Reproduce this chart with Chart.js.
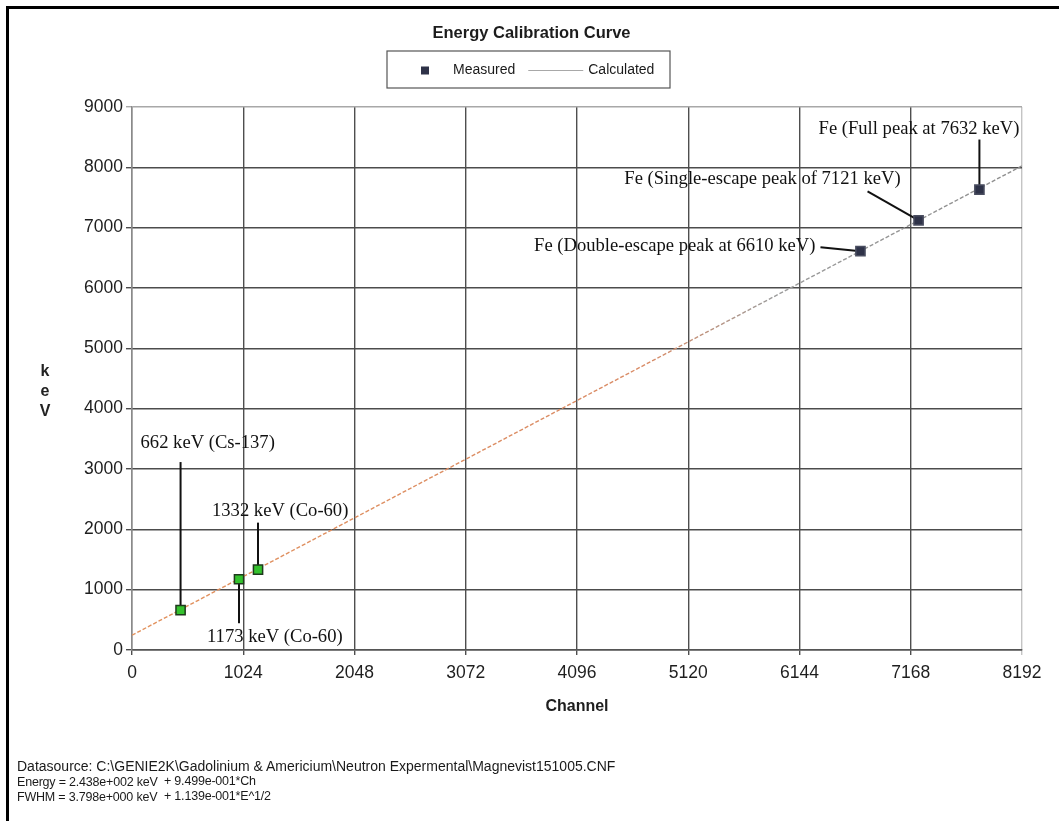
<!DOCTYPE html>
<html>
<head>
<meta charset="utf-8">
<title>Energy Calibration Curve</title>
<script src="https://cdn.jsdelivr.net/npm/chart.js@4.4.1/dist/chart.umd.min.js"></script>
<style>
  html, body { margin: 0; padding: 0; background: #fff; }
  #wrap { position: relative; width: 1059px; height: 821px; overflow: hidden; }
  #frame {
    position: absolute; left: 6px; top: 6px; right: -10px; bottom: -10px;
    border-left: 3px solid #000; border-top: 3px solid #000;
  }
  #chart { position: absolute; left: 0; top: 0; }
  #notes {
    position: absolute; left: 17px; top: 759px;
    font: 14px "Liberation Sans", Arial, sans-serif; color: #1a1a1a;
  }
  #notes div { position: relative; height: 15px; line-height: 15px; white-space: pre; }
  #notes .c1 { font-size: 12.5px; letter-spacing: -0.2px; }
  #notes .c2 { position: absolute; left: 147px; top: 0; font-size: 12.5px; letter-spacing: -0.2px; }
</style>
</head>
<body>
<div id="wrap">
  <canvas id="chart" width="1059" height="821"></canvas>
  <div id="frame"></div>
  <div id="notes">
    <div>Datasource: C:\GENIE2K\Gadolinium &amp; Americium\Neutron Expermental\Magnevist151005.CNF</div>
    <div><span class="c1">Energy = 2.438e+002 keV</span><span class="c2">+ 9.499e-001*Ch</span></div>
    <div><span class="c1">FWHM = 3.798e+000 keV</span><span class="c2">+ 1.139e-001*E^1/2</span></div>
  </div>
</div>
<script>
'use strict';

// ── measured calibration peaks ──
const channels   = [447, 985, 1160, 6705, 7240, 7800];
const energies   = [662, 1173, 1332, 6610, 7121, 7632];
const peakLabels = [
  '662 keV (Cs-137)',
  '1173 keV (Co-60)',
  '1332 keV (Co-60)',
  'Fe (Double-escape peak at 6610 keV)',
  'Fe (Single-escape peak of 7121 keV)',
  'Fe (Full peak at 7632 keV)',
];

// ── calculated calibration line (end points) ──
const fitChannels = [0, 8192];
const fitEnergies = [245, 8025];

const xTicks = [0, 1024, 2048, 3072, 4096, 5120, 6144, 7168, 8192];
const yTicks = [0, 1000, 2000, 3000, 4000, 5000, 6000, 7000, 8000, 9000];

const TITLE = 'Energy Calibration Curve';

// label placement: text offset from the point, text alignment, leader start offset
const LABEL_POS = [
  { dx: -40, dy: -167, align: 'left',  lx: 0,   ly: -148 },
  { dx: -32, dy: 58,   align: 'left',  lx: 0,   ly: 44 },
  { dx: -46, dy: -59,  align: 'left',  lx: 0,   ly: -47 },
  { dx: -45, dy: -5,   align: 'right', lx: -40, ly: -4 },
  { dx: -18, dy: -41,  align: 'right', lx: -51, ly: -29 },
  { dx: 40,  dy: -60,  align: 'right', lx: 0,   ly: -50 },
];

const GREEN = '#35c22e';
const DARK  = '#2e3248';

const SANS  = '"Liberation Sans", Arial, sans-serif';
const SERIF = '"Liberation Serif", "Times New Roman", serif';

const calibPlugin = {
  id: 'calibDecor',
  beforeDatasetsDraw(chart) {
    const { ctx, scales: { x, y } } = chart;
    ctx.save();
    ctx.strokeStyle = '#111';
    ctx.lineWidth = 2;
    channels.forEach((c, i) => {
      const px = x.getPixelForValue(c);
      const py = y.getPixelForValue(energies[i]);
      const p = LABEL_POS[i];
      ctx.beginPath();
      ctx.moveTo(px + p.lx, py + p.ly);
      ctx.lineTo(px, py);
      ctx.stroke();
    });
    ctx.restore();
  },
  afterDraw(chart) {
    const { ctx, scales: { x, y } } = chart;
    const W = chart.width;
    ctx.save();

    // title
    ctx.fillStyle = '#1c1c1c';
    ctx.font = `bold 16.5px ${SANS}`;
    ctx.textAlign = 'center';
    ctx.textBaseline = 'middle';
    ctx.fillText(TITLE, W / 2 + 2, 33);

    // boxed legend
    const box = { left: 387, top: 51, width: 283, height: 37 };
    ctx.strokeStyle = '#555';
    ctx.lineWidth = 1.2;
    ctx.strokeRect(box.left, box.top, box.width, box.height);
    const midY = box.top + box.height / 2 + 1;
    let cx = box.left + 30;
    ctx.font = `14px ${SANS}`;
    ctx.textAlign = 'left';
    chart.data.datasets.forEach(ds => {
      if (ds.showLine) {
        ctx.strokeStyle = '#a8a8a8';
        ctx.lineWidth = 1;
        ctx.beginPath();
        ctx.moveTo(cx, midY);
        ctx.lineTo(cx + 55, midY);
        ctx.stroke();
        cx += 60;
      } else {
        ctx.fillStyle = DARK;
        ctx.fillRect(cx + 4, midY - 4, 8, 8);
        cx += 36;
      }
      ctx.fillStyle = '#1a1a1a';
      ctx.fillText(ds.label, cx, midY);
      cx += ctx.measureText(ds.label).width + 13;
    });

    // stacked y-axis unit
    ctx.font = `bold 16px ${SANS}`;
    ctx.textAlign = 'center';
    ctx.fillStyle = '#222';
    ['k', 'e', 'V'].forEach((ch, i) => ctx.fillText(ch, 45, 372 + i * 20));

    // peak labels
    ctx.font = `18.6px ${SERIF}`;
    ctx.fillStyle = '#111';
    channels.forEach((c, i) => {
      const p = LABEL_POS[i];
      ctx.textAlign = p.align;
      ctx.fillText(peakLabels[i], x.getPixelForValue(c) + p.dx, y.getPixelForValue(energies[i]) + p.dy);
    });
    ctx.restore();
  },
};

function lineShade(context) {
  const area = context.chart.chartArea;
  if (!area) return '#e08a5a';
  const g = context.chart.ctx.createLinearGradient(area.left, 0, area.right, 0);
  g.addColorStop(0, '#e2915c');
  g.addColorStop(0.58, '#d98b66');
  g.addColorStop(0.72, '#9c9c9c');
  g.addColorStop(1, '#8e8e8e');
  return g;
}

const tickFont = { family: SANS, size: 17.5 };

new Chart(document.getElementById('chart'), {
  type: 'scatter',
  data: {
    datasets: [
      {
        label: 'Measured',
        data: channels.map((c, i) => ({ x: c, y: energies[i] })),
        pointStyle: 'rect',
        pointRadius: 6.5,
        pointBackgroundColor: energies.map(e => (e < 2000 ? GREEN : DARK)),
        pointBorderColor: energies.map(e => (e < 2000 ? '#1e3a1c' : '#4a4e60')),
        pointBorderWidth: 1.5,
        showLine: false,
      },
      {
        label: 'Calculated',
        data: fitChannels.map((c, i) => ({ x: c, y: fitEnergies[i] })),
        showLine: true,
        borderColor: lineShade,
        borderWidth: 1.4,
        borderDash: [4, 2],
        pointRadius: 0,
      },
    ],
  },
  options: {
    responsive: false,
    animation: false,
    layout: { padding: { top: 107, left: 0, right: 37, bottom: 101 } },
    plugins: {
      legend: { display: false },
      title: { display: false },
      tooltip: { enabled: false },
    },
    scales: {
      x: {
        type: 'linear',
        min: 0,
        max: 8192,
        afterBuildTicks: axis => { axis.ticks = xTicks.map(v => ({ value: v })); },
        afterFit: axis => { axis.height = 70; },
        ticks: {
          font: tickFont, color: '#1e1e1e', padding: 8, maxRotation: 0, autoSkip: false,
          callback: v => String(v),
        },
        grid: {
          color: ctx => (ctx.tick && ctx.tick.value === 8192 ? '#c4c4c4' : '#4e4e4e'),
          lineWidth: 1.4,
          tickLength: 5,
        },
        border: { color: '#555', width: 1.5 },
        title: {
          display: true,
          text: 'Channel',
          font: { family: SANS, size: 16, weight: 'bold' },
          color: '#1e1e1e',
          padding: { top: 0, bottom: 4 },
        },
      },
      y: {
        type: 'linear',
        min: 0,
        max: 9000,
        afterBuildTicks: axis => { axis.ticks = yTicks.map(v => ({ value: v })); },
        afterFit: axis => { axis.width = 132; },
        ticks: { font: tickFont, color: '#1e1e1e', padding: 3, callback: v => String(v) },
        grid: {
          color: ctx => (ctx.tick && ctx.tick.value === 9000 ? '#a8a8a8' : '#4c4c4c'),
          lineWidth: 1.4,
          tickLength: 6,
        },
        border: { color: '#8a8a8a', width: 1.3 },
      },
    },
  },
  plugins: [calibPlugin],
});
</script>
</body>
</html>
